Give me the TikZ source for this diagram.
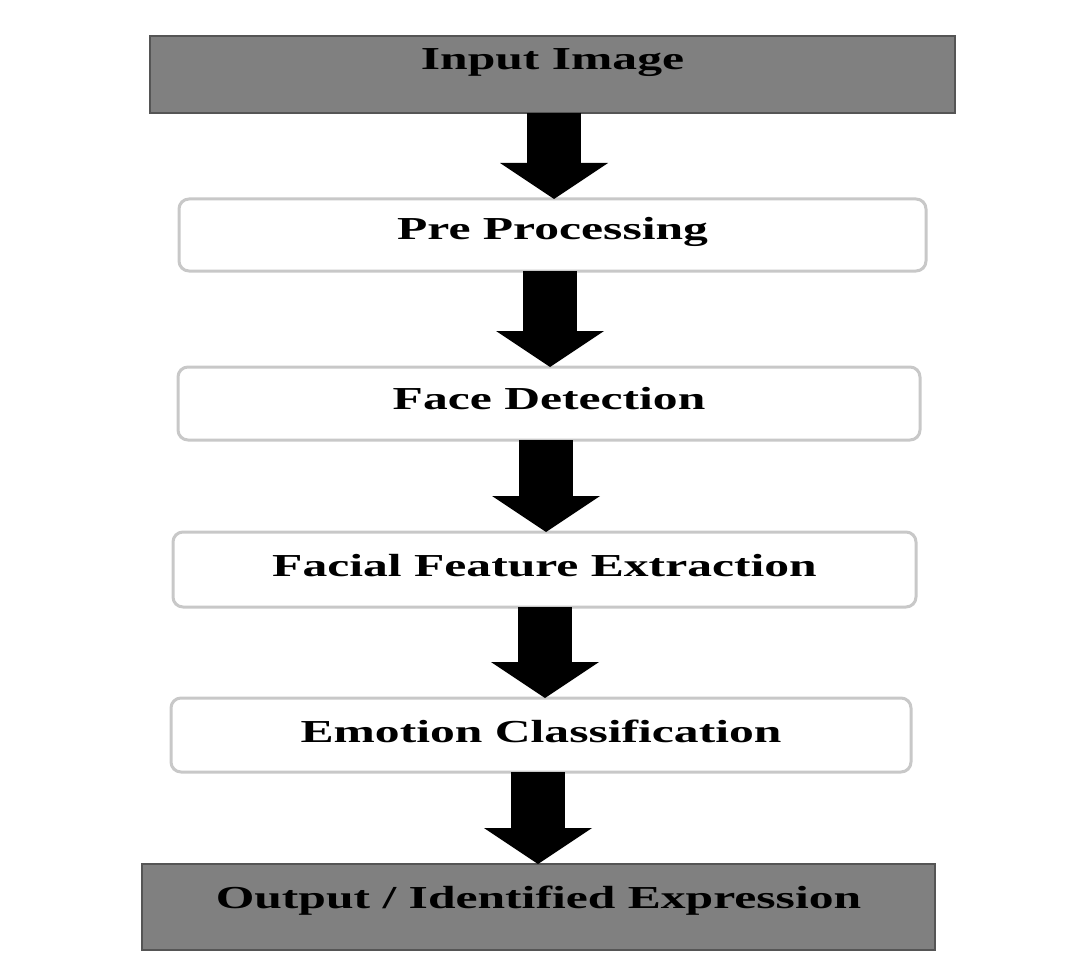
\documentclass[tikz,border=0pt]{standalone}
\usepackage{fontspec}
\setmainfont{Liberation Serif}
\usepackage{graphicx}
\usetikzlibrary{arrows.meta}
\definecolor{boxgray}{HTML}{808080}
\definecolor{edgegray}{HTML}{555555}
\definecolor{lightedge}{HTML}{C8C8C8}
\newcommand{\lbl}[1]{\scalebox{1.55}[1]{#1}}
\tikzset{
  base/.style={inner sep=0pt, outer sep=0pt,
    font=\fontsize{32}{36}\selectfont\bfseries, text=black},
  graybox/.style={base, rectangle, fill=boxgray, draw=edgegray, line width=2.5pt},
  whitebox/.style={base, rectangle, rounded corners=10pt, fill=white, draw=lightedge, line width=3pt},
  blockarrow/.style={line width=54pt, black,
    -{Triangle[width=108pt,length=36pt,line width=0pt]}}
}
\begin{document}
\begin{tikzpicture}[x=1pt,y=-1pt]
\useasboundingbox (0,0) rectangle (1080,971);

\node[graybox, minimum width=805pt, minimum height=77pt, text height=20pt, text depth=29pt]
  (b1) at (552.5,74.5) {\lbl{Input Image}};
\node[whitebox, minimum width=747pt, minimum height=72pt, text height=25pt, text depth=15pt]
  (b2) at (552.5,235) {\lbl{Pre Processing}};
\node[whitebox, minimum width=742pt, minimum height=73pt, text height=26pt, text depth=15pt]
  (b3) at (549,403.5) {\lbl{Face Detection}};
\node[whitebox, minimum width=743pt, minimum height=75pt, text height=27pt, text depth=14pt]
  (b4) at (544.5,569.5) {\lbl{Facial Feature Extraction}};
\node[whitebox, minimum width=740pt, minimum height=74pt, text height=28pt, text depth=14pt]
  (b5) at (541,735) {\lbl{Emotion Classification}};
\node[graybox, minimum width=793pt, minimum height=86pt, text height=20pt, text depth=18pt]
  (b6) at (538.5,907) {\lbl{Output / Identified Expression}};

\draw[blockarrow] ([xshift=1.5pt]b1.south) -- ([xshift=1.5pt]b2.north);
\draw[blockarrow] ([xshift=-2.5pt]b2.south) -- ([xshift=1pt]b3.north);
\draw[blockarrow] ([xshift=-3pt]b3.south) -- ([xshift=1.5pt]b4.north);
\draw[blockarrow] ([xshift=0.5pt]b4.south) -- ([xshift=4pt]b5.north);
\draw[blockarrow] ([xshift=-3pt]b5.south) -- ([xshift=-0.5pt]b6.north);
\end{tikzpicture}
\end{document}
